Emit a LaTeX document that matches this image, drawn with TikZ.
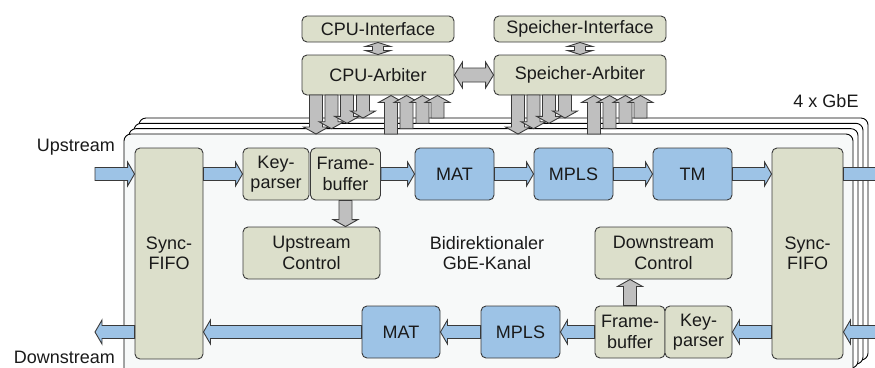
\documentclass[tikz,border=0pt]{standalone}
\usepackage{fontspec}
\setmainfont{Liberation Sans}
\usetikzlibrary{calc}
\definecolor{bc}{HTML}{3A3A3A}
\definecolor{gfill}{HTML}{DCDFCB}
\definecolor{bfill}{HTML}{9DC3E6}
\definecolor{afill}{HTML}{BFBFBF}
\definecolor{ffill}{HTML}{F7F9F9}
\definecolor{tc}{HTML}{1A1A1A}
\newcommand\lbl{\fontsize{18}{20.5}\selectfont}
\tikzset{
  box/.style={draw=bc, rounded corners=5pt, line width=0.9pt, align=center, inner sep=0pt, font=\lbl, text=tc},
  gbox/.style={box, fill=gfill},
  bbox/.style={box, fill=bfill},
  fat/.style={draw=bc, line width=0.9pt, line join=miter},
  frame/.style={draw=black, line width=0.9pt, rounded corners=7pt},
  txt/.style={font=\lbl, text=tc, align=center, inner sep=0pt}
}
% fat arrow rightwards: from #1 to tip #2
\newcommand\FR[3]{\filldraw[fat,fill=#3] let \p1=#1,\p2=#2 in (\x1,\y1+6.5pt) -- (\x2-7pt,\y1+6.5pt) -- (\x2-7pt,\y1+12pt) -- (\x2,\y1) -- (\x2-7pt,\y1-12pt) -- (\x2-7pt,\y1-6.5pt) -- (\x1,\y1-6.5pt) -- cycle;}
\newcommand\FL[3]{\filldraw[fat,fill=#3] let \p1=#1,\p2=#2 in (\x1,\y1+6.5pt) -- (\x2+7pt,\y1+6.5pt) -- (\x2+7pt,\y1+12pt) -- (\x2,\y1) -- (\x2+7pt,\y1-12pt) -- (\x2+7pt,\y1-6.5pt) -- (\x1,\y1-6.5pt) -- cycle;}
\newcommand\FD[3]{\filldraw[fat,fill=#3] let \p1=#1,\p2=#2 in (\x1-6.5pt,\y1) -- (\x1-6.5pt,\y2+7pt) -- (\x1-12.5pt,\y2+7pt) -- (\x1,\y2) -- (\x1+12.5pt,\y2+7pt) -- (\x1+6.5pt,\y2+7pt) -- (\x1+6.5pt,\y1) -- cycle;}
\newcommand\FU[3]{\filldraw[fat,fill=#3] let \p1=#1,\p2=#2 in (\x1-6.5pt,\y1) -- (\x1-6.5pt,\y2-7pt) -- (\x1-12.5pt,\y2-7pt) -- (\x1,\y2) -- (\x1+12.5pt,\y2-7pt) -- (\x1+6.5pt,\y2-7pt) -- (\x1+6.5pt,\y1) -- cycle;}
% double vertical: #1 top, #2 bottom
\newcommand\FDV[2]{\filldraw[fat,fill=afill] let \p1=#1,\p2=#2 in (\x1,\y1) -- (\x1+12.5pt,\y1-4pt) -- (\x1+5.5pt,\y1-4pt) -- (\x1+5.5pt,\y2+4pt) -- (\x1+12.5pt,\y2+4pt) -- (\x1,\y2) -- (\x1-12.5pt,\y2+4pt) -- (\x1-5.5pt,\y2+4pt) -- (\x1-5.5pt,\y1-4pt) -- (\x1-12.5pt,\y1-4pt) -- cycle;}
% double horizontal: #1 left, #2 right
\newcommand\FDH[2]{\filldraw[fat,fill=afill] let \p1=#1,\p2=#2 in (\x1,\y1) -- (\x1+8pt,\y1+13pt) -- (\x1+8pt,\y1+7pt) -- (\x2-8pt,\y1+7pt) -- (\x2-8pt,\y1+13pt) -- (\x2,\y1) -- (\x2-8pt,\y1-13pt) -- (\x2-8pt,\y1-7pt) -- (\x1+8pt,\y1-7pt) -- (\x1+8pt,\y1-13pt) -- cycle;}
\begin{document}
\begin{tikzpicture}[x=1pt,y=-1pt]
\useasboundingbox (0,0) rectangle (875,367);
\clip (0,0) rectangle (875,367);
\fill[white] (0,0) rectangle (875,367);
% stacked frames
\foreach \k in {3,2,1}{
  \draw[frame, fill=white] ({124+5*\k},{134-5.33*\k}) rectangle ({853+5*\k},{372-4*\k});
}
\draw[frame, fill=ffill] (124,134) rectangle (853,380);
% top boxes
\node[gbox, minimum width=152, minimum height=26] (cpui) at (378,29) {CPU-Interface};
\node[gbox, minimum width=152, minimum height=40] (cpua) at (378,75) {CPU-Arbiter};
\node[gbox, minimum width=172, minimum height=26] (spi) at (580,29) {Speicher-Interface};
\node[gbox, minimum width=172, minimum height=40] (spa) at (580,75) {Speicher-Arbiter};
\FDV{(cpui.south)}{(cpua.north)}
\FDV{(spi.south)}{(spa.north)}
\FDH{(cpua.east)}{(spa.west)}
% arbiter <-> channel bundles
\foreach \dx/\tip in {0/134, 15.5/128.7, 31/123.3, 47/118}{
  \FD{({316+\dx},95)}{({316+\dx},\tip)}{afill}
  \FD{({518+\dx},95)}{({518+\dx},\tip)}{afill}
}
\foreach \dx/\bot in {0/134, 15.5/128.7, 31.5/123.3, 46.5/118}{
  \FU{({391+\dx},\bot)}{({391+\dx},95.5)}{afill}
  \FU{({594+\dx},\bot)}{({594+\dx},95.5)}{afill}
}
% channel boxes
\node[gbox, minimum width=68, minimum height=211] (sfl) at (169,253.5) {Sync-\\FIFO};
\node[gbox, minimum width=71, minimum height=211] (sfr) at (807.5,253.5) {Sync-\\FIFO};
\node[gbox, minimum width=66, minimum height=52] (kpu) at (276,174) {Key-\\parser};
\node[gbox, minimum width=70, minimum height=52] (fbu) at (345.5,174) {Frame-\\buffer};
\node[bbox, minimum width=79, minimum height=52] (matu) at (454.5,174) {MAT};
\node[bbox, minimum width=79, minimum height=52] (mplsu) at (573.5,174) {MPLS};
\node[bbox, minimum width=79, minimum height=52] (tm) at (692.5,174) {TM};
\node[gbox, minimum width=137, minimum height=52] (upc) at (311.5,253) {Upstream\\Control};
\node[gbox, minimum width=137, minimum height=52] (dnc) at (663.5,253) {Downstream\\Control};
\node[bbox, minimum width=78, minimum height=52] (matd) at (401,332) {MAT};
\node[bbox, minimum width=79, minimum height=52] (mplsd) at (520.5,332) {MPLS};
\node[gbox, minimum width=70, minimum height=52] (fbd) at (630,332) {Frame-\\buffer};
\node[gbox, minimum width=67, minimum height=52] (kpd) at (698.5,332) {Key-\\parser};
% control arrows
\FD{(fbu.south)}{(upc.north)}{afill}
\FU{(fbd.north)}{(dnc.south)}{afill}
% upstream path
\coordinate (uin) at (95,174);
\coordinate (uout) at (890,174);
\FR{(uin)}{(sfl.west)}{bfill}
\FR{(sfl.east|-kpu.west)}{(kpu.west)}{bfill}
\FR{(fbu.east)}{(matu.west)}{bfill}
\FR{(matu.east)}{(mplsu.west)}{bfill}
\FR{(mplsu.east)}{(tm.west)}{bfill}
\FR{(tm.east)}{(sfr.west|-tm.east)}{bfill}
\FR{(sfr.east|-tm.east)}{(uout)}{bfill}
% downstream path
\coordinate (din) at (890,332);
\coordinate (dout) at (95,332);
\FL{(din)}{(sfr.east|-kpd.east)}{bfill}
\FL{(sfr.west|-kpd.east)}{(kpd.east)}{bfill}
\FL{(fbd.west)}{(mplsd.east)}{bfill}
\FL{(mplsd.west)}{(matd.east)}{bfill}
\FL{(matd.west)}{(sfl.east|-matd.west)}{bfill}
\FL{(sfl.west|-matd.west)}{(dout)}{bfill}
% labels
\node[txt, anchor=east] (lup) at (115,147) {Upstream};
\node[txt, anchor=east] (ldn) at (115,357.5) {Downstream};
\node[txt] (lgbe) at (826,101) {4 x GbE};
\node[txt] (lch) at (487,253) {Bidirektionaler\\GbE-Kanal};
\end{tikzpicture}
\end{document}
